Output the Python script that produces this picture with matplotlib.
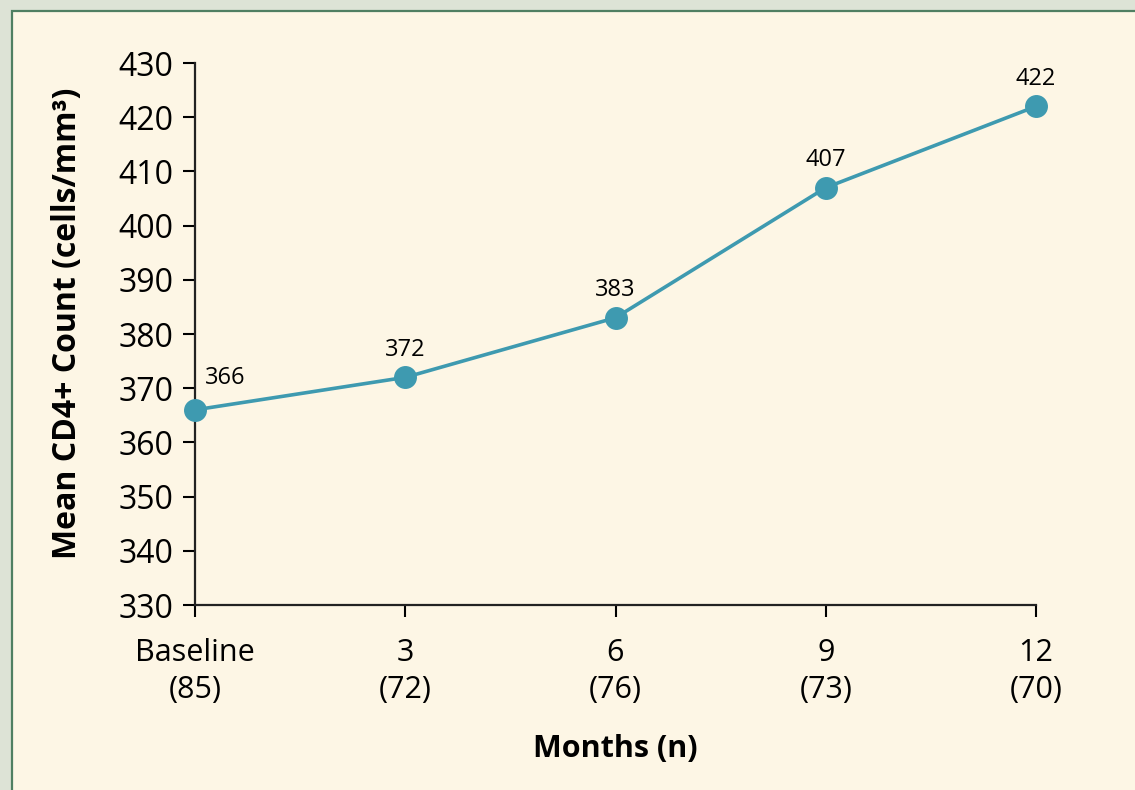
import matplotlib.pyplot as plt
from matplotlib.patches import Rectangle

months = ["Baseline", "3", "6", "9", "12"]
counts_n = [85, 72, 76, 73, 70]
cd4_mean = [366, 372, 383, 407, 422]
y_ticks = [330, 340, 350, 360, 370, 380, 390, 400, 410, 420, 430]

plt.rcParams['font.family'] = ['Open Sans', 'DejaVu Sans']

fig = plt.figure(figsize=(11.35, 7.9), dpi=100)
fig.patch.set_facecolor('#dde3d6')

# cream panel with green border (runs off the right and bottom edges)
panel = Rectangle((12 / 1135, -0.05), 1.1, 1 - 11 / 790 + 0.05, transform=fig.transFigure,
                  facecolor='#fdf6e5', edgecolor='#4f7f62', linewidth=1.6, zorder=-10)
fig.patches.append(panel)

ax = fig.add_axes([195 / 1135, (790 - 605) / 790, (1036 - 195) / 1135, (605 - 63) / 790])
ax.set_facecolor('none')

x = list(range(len(months)))
ax.plot(x, cd4_mean, '-o', color='#3e9ab0', linewidth=2.6, markersize=15.5,
        clip_on=False, zorder=3)

for i, v in enumerate(cd4_mean):
    if i == 0:
        ax.annotate(str(v), (i, v), xytext=(7, 14), textcoords='offset points',
                    ha='left', va='bottom', fontsize=17)
    else:
        ax.annotate(str(v), (i, v), xytext=(0, 11), textcoords='offset points',
                    ha='center', va='bottom', fontsize=17)

ax.set_xlim(0, len(months) - 1)
ax.set_ylim(330, 430)
ax.set_yticks(y_ticks)
ax.set_xticks(x)
ax.set_xticklabels([f"{m}\n({n})" for m, n in zip(months, counts_n)], fontsize=22,
                   linespacing=1.3)
ax.tick_params(axis='y', labelsize=23, length=8.5, width=1.5, pad=7)
ax.tick_params(axis='x', length=8.5, width=1.5, pad=15)

for s in ['top', 'right']:
    ax.spines[s].set_visible(False)
for s in ['left', 'bottom']:
    ax.spines[s].set_linewidth(1.6)
    ax.spines[s].set_color('#222222')

ax.set_ylabel("Mean CD4+ Count (cells/mm³)", fontsize=23, fontweight='bold')
ax.yaxis.set_label_coords((84 - 195) / 841, 0.52)
ax.set_xlabel("Months (n)", fontsize=22, fontweight='bold')
ax.xaxis.set_label_coords(0.5, (605 - 734) / 542)

fig.savefig('out.png', dpi=100, facecolor=fig.get_facecolor())
